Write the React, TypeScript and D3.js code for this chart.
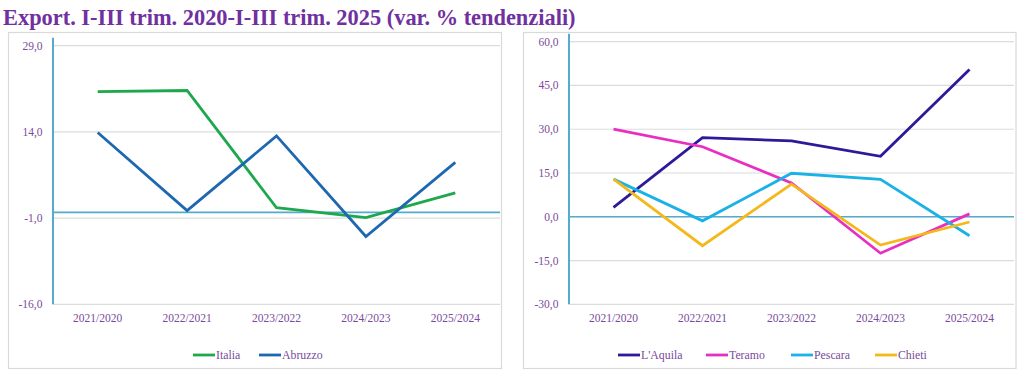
import React from "react";
import * as d3 from "d3";

const categories = ["2021/2020", "2022/2021", "2023/2022", "2024/2023", "2025/2024"];

const italia = [21.0, 21.2, 0.8, -0.9, 3.4];
const abruzzo = [13.9, 0.3, 13.3, -4.2, 8.7];

const laquila = [3.2, 27.1, 26.0, 20.7, 50.5];
const teramo = [30.0, 24.0, 11.6, -12.5, 1.0];
const pescara = [12.9, -1.4, 14.9, 12.8, -6.5];
const chieti = [12.9, -9.9, 11.2, -9.7, -1.8];

const leftTicks = [-16, -1, 14, 29];
const rightTicks = [-30, -15, 0, 15, 30, 45, 60];

const title = "Export. I-III trim. 2020-I-III trim. 2025 (var. % tendenziali)";

type Series = { name: string; values: number[]; color: string };

const leftSeries: Series[] = [
  { name: "Italia", values: italia, color: "#1ea84e" },
  { name: "Abruzzo", values: abruzzo, color: "#1d68b0" },
];
const rightSeries: Series[] = [
  { name: "L'Aquila", values: laquila, color: "#2c1a98" },
  { name: "Teramo", values: teramo, color: "#e82fc2" },
  { name: "Pescara", values: pescara, color: "#1ab2e6" },
  { name: "Chieti", values: chieti, color: "#f4b81a" },
];

const FONT = "'Liberation Serif', 'Times New Roman', serif";
const LABEL = "#7a4a9c";
const AXIS = "#55aacd";

const fmt = (v: number) => v.toFixed(1).replace(".", ",");

function Panel(props: {
  box: [number, number, number, number];
  plot: [number, number, number, number];
  domain: [number, number];
  ticks: number[];
  series: Series[];
  legendX: number[];
}) {
  const { box, plot, domain, ticks, series, legendX } = props;
  const [px0, py0, px1, py1] = plot;
  const x = d3.scaleBand<string>().domain(categories).range([px0, px1]).padding(0);
  const y = d3.scaleLinear().domain(domain).range([py1, py0]);
  const cx = (c: string) => (x(c) as number) + x.bandwidth() / 2;
  const line = d3
    .line<number>()
    .x((_, i) => cx(categories[i]))
    .y((d) => y(d));
  return (
    <g>
      <rect x={box[0]} y={box[1]} width={box[2]} height={box[3]} fill="#fff" stroke="#d9d9d9" strokeWidth={1.2} />
      {ticks.map((t) => (
        <g key={t}>
          <line x1={px0} x2={px1} y1={y(t)} y2={y(t)} stroke="#dcdcdc" strokeWidth={1.2} />
          <text x={px0 - 10.5} y={y(t)} dy="0.35em" textAnchor="end" fontFamily={FONT} fontSize={11.5} fill={LABEL}>
            {fmt(t)}
          </text>
        </g>
      ))}
      <line x1={px0} x2={px1} y1={y(0)} y2={y(0)} stroke={AXIS} strokeWidth={1.6} />
      <line x1={px0} x2={px0} y1={py0 - 8} y2={py1} stroke={AXIS} strokeWidth={2} />
      {categories.map((c) => (
        <text key={c} x={cx(c)} y={py1 + 18} textAnchor="middle" fontFamily={FONT} fontSize={11.5} fill={LABEL}>
          {c}
        </text>
      ))}
      {series.map((s) => (
        <path key={s.name} d={line(s.values) || ""} fill="none" stroke={s.color} strokeWidth={2.8} strokeLinejoin="miter" />
      ))}
      {series.map((s, i) => (
        <g key={s.name}>
          <line x1={legendX[i]} x2={legendX[i] + 22} y1={355} y2={355} stroke={s.color} strokeWidth={2.8} />
          <text x={legendX[i] + 23} y={355} dy="0.35em" fontFamily={FONT} fontSize={11.8} fill={LABEL}>
            {s.name}
          </text>
        </g>
      ))}
    </g>
  );
}

export default function App() {
  return (
    <svg
      width={1024}
      height={378}
      style={{ position: "absolute", left: 0, top: 0, background: "#fff" }}
    >
      <rect x={0} y={0} width={1024} height={378} fill="#fff" />
      <text x={3} y={25} fontFamily={FONT} fontSize={22.4} fontWeight="bold" fill="#7030a0">
        {title}
      </text>
      <Panel
        box={[8.5, 32.5, 493, 336]}
        plot={[53, 45.7, 500, 304.3]}
        domain={[-16, 29]}
        ticks={leftTicks}
        series={leftSeries}
        legendX={[193, 259]}
      />
      <Panel
        box={[523.5, 32.5, 492.5, 336]}
        plot={[569, 41.7, 1014, 304.3]}
        domain={[-30, 60]}
        ticks={rightTicks}
        series={rightSeries}
        legendX={[618, 706, 791, 875]}
      />
    </svg>
  );
}
